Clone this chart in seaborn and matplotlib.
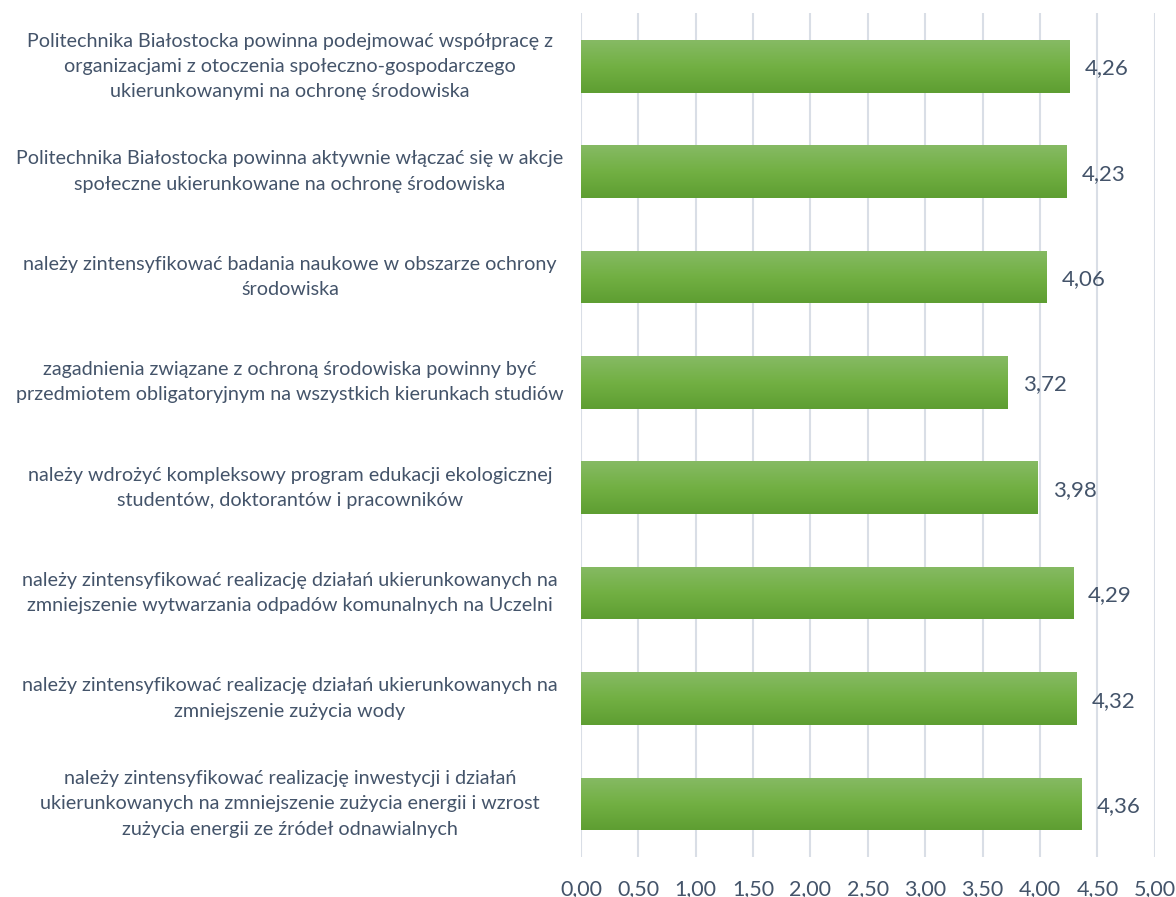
import matplotlib
matplotlib.use("Agg")
import matplotlib.pyplot as plt
import matplotlib.transforms as mtransforms
import numpy as np
import pandas as pd
import seaborn as sns
from matplotlib.colors import LinearSegmentedColormap

statements = [
    "Politechnika Białostocka powinna podejmować współpracę z\norganizacjami z otoczenia społeczno-gospodarczego\nukierunkowanymi na ochronę środowiska",
    "Politechnika Białostocka powinna aktywnie włączać się w akcje\nspołeczne ukierunkowane na ochronę środowiska",
    "należy zintensyfikować badania naukowe w obszarze ochrony\nśrodowiska",
    "zagadnienia związane z ochroną środowiska powinny być\nprzedmiotem obligatoryjnym na wszystkich kierunkach studiów",
    "należy wdrożyć kompleksowy program edukacji ekologicznej\nstudentów, doktorantów i pracowników",
    "należy zintensyfikować realizację działań ukierunkowanych na\nzmniejszenie wytwarzania odpadów komunalnych na Uczelni",
    "należy zintensyfikować realizację działań ukierunkowanych na\nzmniejszenie zużycia wody",
    "należy zintensyfikować realizację inwestycji i działań\nukierunkowanych na zmniejszenie zużycia energii i wzrost\nzużycia energii ze źródeł odnawialnych",
]
scores = [4.26, 4.23, 4.06, 3.72, 3.98, 4.29, 4.32, 4.36]
x_ticks = [0.0, 0.5, 1.0, 1.5, 2.0, 2.5, 3.0, 3.5, 4.0, 4.5, 5.0]

TEXT = "#44546A"
GRID = "#D9DEE6"
FONT = "Lato"

sns.set_theme(style="white")
plt.rcParams["font.family"] = [FONT, "DejaVu Sans"]

df = pd.DataFrame({"statement": statements, "score": scores})

fig = plt.figure(figsize=(11.76, 8.97), dpi=100)
ax = fig.add_axes([0.494, 0.045, 0.488, 0.940])

sns.barplot(data=df, x="score", y="statement", orient="h", width=0.5,
            color="#70AD47", ax=ax, zorder=3)

# vertical gradient fill on each bar
green = LinearSegmentedColormap.from_list("g", ["#86BA64", "#72B043", "#5E9E32"])
grad = np.linspace(0, 1, 64).reshape(-1, 1)
for p in ax.patches:
    x0, y0 = p.get_x(), p.get_y()
    w, h = p.get_width(), p.get_height()
    im = ax.imshow(grad, cmap=green, aspect="auto", zorder=4,
                   extent=(x0, x0 + w, y0 + h, y0), interpolation="bicubic")
    im.set_clip_path(p)
    p.set_facecolor("none")
    p.set_edgecolor("none")

ax.set_xlim(0, 5)
ax.set_ylim(len(statements) - 0.5, -0.5)
ax.set_xticks(x_ticks)
ax.set_xticklabels([f"{t:.2f}".replace(".", ",") for t in x_ticks],
                   fontsize=15.5, color=TEXT)
ax.tick_params(axis="x", length=0, pad=16)
ax.set_yticks([])
ax.set_xlabel("")
ax.set_ylabel("")
for s in ax.spines.values():
    s.set_visible(False)
ax.grid(axis="x", color=GRID, linewidth=1.5, zorder=0)
ax.set_axisbelow(True)

# value labels
for i, v in enumerate(scores):
    ax.text(v + 0.13, i + 0.02, f"{v:.2f}".replace(".", ","), ha="left",
            va="center", fontsize=16, color=TEXT, zorder=5)

# statement labels, centred in the left margin
trans = mtransforms.blended_transform_factory(fig.transFigure, ax.transData)
for i, s in enumerate(statements):
    ax.text(0.2466, i, s, transform=trans, ha="center", va="center",
            multialignment="center", fontsize=14.2, color=TEXT,
            linespacing=1.58, clip_on=False)

fig.savefig("out.png", dpi=100)
